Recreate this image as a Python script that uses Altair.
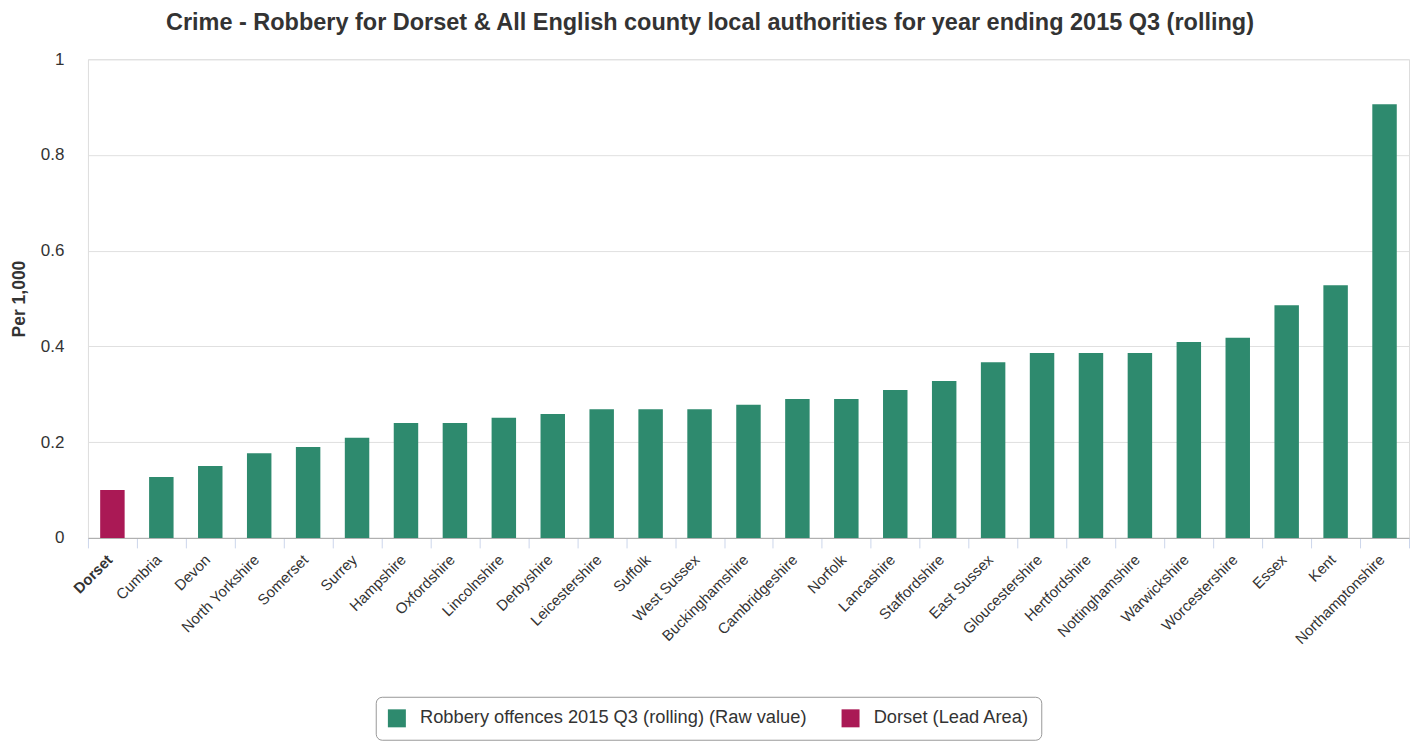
import altair as alt
import pandas as pd

areas = ["Dorset", "Cumbria", "Devon", "North Yorkshire", "Somerset", "Surrey",
         "Hampshire", "Oxfordshire", "Lincolnshire", "Derbyshire", "Leicestershire",
         "Suffolk", "West Sussex", "Buckinghamshire", "Cambridgeshire", "Norfolk",
         "Lancashire", "Staffordshire", "East Sussex", "Gloucestershire", "Hertfordshire",
         "Nottinghamshire", "Warwickshire", "Worcestershire", "Essex", "Kent",
         "Northamptonshire"]
values = [0.100, 0.127, 0.150, 0.177, 0.190, 0.209, 0.240, 0.240, 0.251, 0.259, 0.269,
          0.269, 0.269, 0.278, 0.290, 0.290, 0.309, 0.328, 0.367, 0.386, 0.386,
          0.386, 0.409, 0.418, 0.486, 0.528, 0.906]
series_names = ["Robbery offences 2015 Q3 (rolling) (Raw value)", "Dorset (Lead Area)"]
series_colors = ["#2e8a6e", "#aa1955"]
lead_area = "Dorset"

df = pd.DataFrame({
    "area": areas,
    "value": values,
    "series": [series_names[1] if a == lead_area else series_names[0] for a in areas],
})

FONT = "Liberation Sans"

chart = alt.Chart(df).mark_bar(width={"band": 0.5}).encode(
    x=alt.X("area:N", sort=areas, title=None,
            scale=alt.Scale(paddingInner=0, paddingOuter=0),
            axis=alt.Axis(labelAngle=-45, labelFontSize=15, labelColor="#333333",
                          tickBand="extent", tickColor="#ccd6eb",
                          tickSize=10, domainColor="#aaaaaa", labelPadding=4,
                          labelOffset=-8,
                          labelFontWeight=alt.ExprRef("datum.value == 'Dorset' ? 'bold' : 'normal'"),
                          grid=False)),
    y=alt.Y("value:Q", title="Per 1,000",
            scale=alt.Scale(domain=[0, 1], nice=False),
            axis=alt.Axis(values=[0, 0.2, 0.4, 0.6, 0.8, 1], format="~g",
                          labelFontSize=17, labelColor="#333333",
                          labelPadding=24, tickSize=0, domain=False,
                          gridColor="#e0e0e0", titleFontSize=17.5,
                          titleFontWeight="bold", titleColor="#333333", titlePadding=12)),
    color=alt.Color("series:N",
                    scale=alt.Scale(domain=series_names, range=series_colors),
                    legend=alt.Legend(title=None, orient="none", direction="horizontal",
                                      legendX=288, legendY=638,
                                      strokeColor="#999999", cornerRadius=6, padding=12,
                                      symbolType="square", symbolSize=324,
                                      symbolStrokeWidth=0, labelFontSize=18.3,
                                      labelColor="#333333", labelOffset=14,
                                      columnPadding=34, labelLimit=500)),
).properties(
    width=1322, height=479,
    title=alt.TitleParams(
        "Crime - Robbery for Dorset & All English county local authorities for year ending 2015 Q3 (rolling)",
        fontSize=23.5, fontWeight="bold", color="#333333",
        anchor="middle", frame="bounds", offset=16),
).configure_view(stroke=None).configure(
    font=FONT, padding={"left": 2, "top": 2, "right": 2, "bottom": 2}
)

chart.save("out.html", embed_options={"renderer": "svg", "actions": False})
